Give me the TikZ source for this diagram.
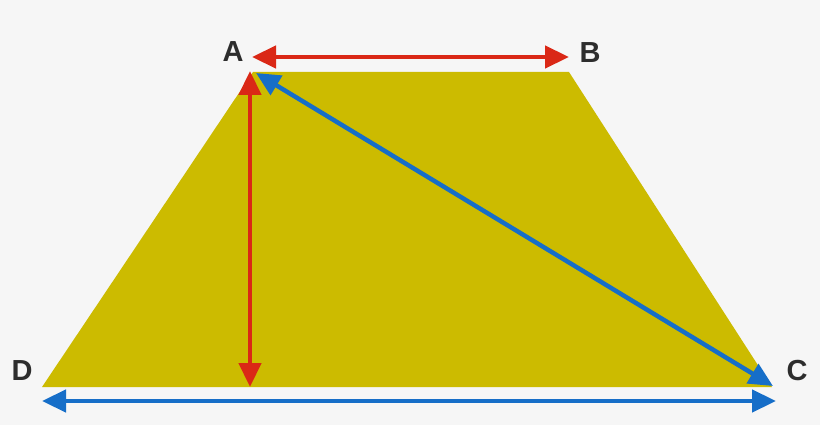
\documentclass[tikz,border=0pt]{standalone}
\usepackage{fontspec}
\setmainfont{Liberation Sans}
\usetikzlibrary{arrows.meta}

\definecolor{trapyellow}{RGB}{204,187,0}
\definecolor{arrred}{RGB}{218,40,22}
\definecolor{arrblue}{RGB}{22,110,200}
\definecolor{labelgray}{RGB}{45,45,45}
\definecolor{bggray}{RGB}{246,246,246}

\tikzset{
  bigtri/.tip = {Triangle[length=24pt, width=22pt]},
  redarrow/.style = {arrred, line width=4.5pt, bigtri-bigtri},
  bluearrow/.style = {arrblue, line width=4.5pt, bigtri-bigtri},
  vertexlabel/.style = {labelgray, font=\fontsize{29}{29}\selectfont\bfseries}
}

\begin{document}
\begin{tikzpicture}[x=1pt, y=-1pt]
    \fill[bggray] (0, 0) rectangle (820, 425);
    \useasboundingbox (0, 0) rectangle (820, 425);

    % corners of the trapezoid
    \coordinate (A) at (253, 72);
    \coordinate (B) at (569, 72);
    \coordinate (C) at (772, 387);
    \coordinate (D) at (42, 387);

    \fill[trapyellow] (A) -- (B) -- (C) -- (D) -- cycle;

    % arrow ends
    \coordinate (topL) at (252, 57);
    \coordinate (topR) at (569, 57);
    \coordinate (hTop) at (250, 71);
    \coordinate (hBot) at (250, 387);
    \coordinate (diagA) at (256, 73);
    \coordinate (diagC) at (773, 386);
    \coordinate (botL) at (42, 401);
    \coordinate (botR) at (776, 401);

    \draw[redarrow] (topL) -- (topR);
    \draw[redarrow] (hBot) -- (hTop);
    \draw[bluearrow] (diagC) -- (diagA);
    \draw[bluearrow] (botL) -- (botR);

    \node[vertexlabel] (labA) at (233, 52) {A};
    \node[vertexlabel] (labB) at (590, 53) {B};
    \node[vertexlabel] (labC) at (797, 371) {C};
    \node[vertexlabel] (labD) at (22, 371) {D};
\end{tikzpicture}
\end{document}
